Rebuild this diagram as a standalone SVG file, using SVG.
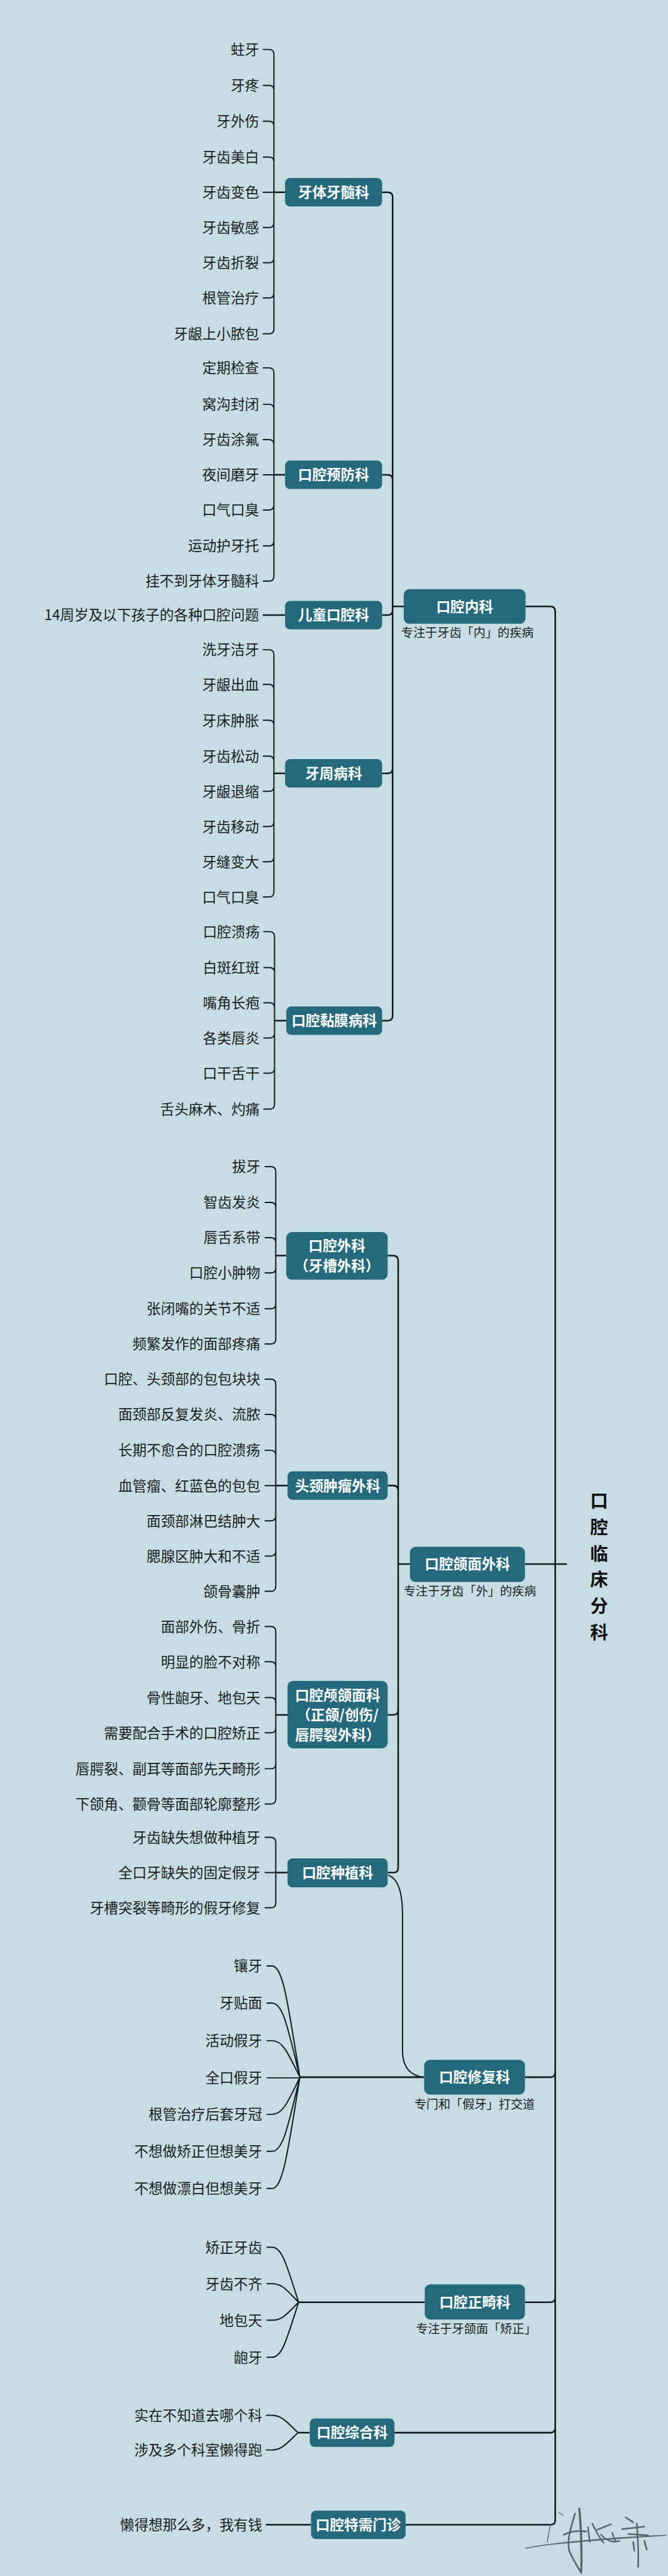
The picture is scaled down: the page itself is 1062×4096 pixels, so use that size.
<svg xmlns="http://www.w3.org/2000/svg" width="1062" height="4096" viewBox="0 0 1062 4096">
<style>
text{font-family:"Noto Sans CJK SC","Noto Sans",sans-serif}
.lf{font-size:23px;fill:#1a1e22;text-anchor:end}
.bx{fill:#256a7c}
.bt{font-size:23px;font-weight:700;fill:#ffffff;text-anchor:middle}
.sb{font-size:19.5px;fill:#1a1e22;text-anchor:middle}
.ln{fill:none;stroke:#131b1f;stroke-width:2}
.ln2{fill:none;stroke:#131b1f;stroke-width:2.6}
.sig{fill:none;stroke:#55666b;stroke-linecap:round}
.tt{font-size:29px;font-weight:700;fill:#111;text-anchor:middle}
</style>
<rect x="0" y="0" width="1062" height="4096" fill="#c7dde3"/>
<g transform="scale(0.983)">
<g id="connectors">
<path class="ln" d="M425,80H435Q443,80 443,88V311M425,138H435Q443,138 443,146V311M425,196H435Q443,196 443,204V311M425,254H435Q443,254 443,262V311M425,311H443M425,368H435Q443,368 443,360V311M425,425H435Q443,425 443,417V311M425,482H435Q443,482 443,474V311M425,540H435Q443,540 443,532V311"/>
<path class="ln2" d="M443,311H461"/>
<path class="ln" d="M425,595H435Q443,595 443,603V768M425,654H435Q443,654 443,662V768M425,711H435Q443,711 443,719V768M425,768H443M425,825H435Q443,825 443,817V768M425,883H435Q443,883 443,875V768M425,940H435Q443,940 443,932V768"/>
<path class="ln2" d="M443,768H461"/>
<path class="ln2" d="M425,995H461"/>
<path class="ln" d="M425,1051H435Q443,1051 443,1059V1251M425,1107H435Q443,1107 443,1115V1251M425,1165H435Q443,1165 443,1173V1251M425,1223H435Q443,1223 443,1231V1251M425,1280H435Q443,1280 443,1272V1251M425,1337H435Q443,1337 443,1329V1251M425,1394H435Q443,1394 443,1386V1251M425,1451H435Q443,1451 443,1443V1251"/>
<path class="ln2" d="M443,1251H461"/>
<path class="ln" d="M426,1507H436Q444,1507 444,1515V1651M426,1565H436Q444,1565 444,1573V1651M426,1622H436Q444,1622 444,1630V1651M426,1679H436Q444,1679 444,1671V1651M426,1736H436Q444,1736 444,1728V1651M426,1794H436Q444,1794 444,1786V1651"/>
<path class="ln2" d="M444,1651H463"/>
<path class="ln2" d="M618,311H627Q635,311 635,319V981M618,768H627Q635,768 635,776V981M618,995H627Q635,995 635,987V981M618,1251H627Q635,1251 635,1243V981M618,1651H627Q635,1651 635,1643V981M635,981H653"/>
<path class="ln" d="M428,1887H438Q446,1887 446,1895V2031M428,1945H438Q446,1945 446,1953V2031M428,2002H438Q446,2002 446,2010V2031M428,2059H438Q446,2059 446,2051V2031M428,2117H438Q446,2117 446,2109V2031M428,2174H438Q446,2174 446,2166V2031"/>
<path class="ln2" d="M446,2031H463"/>
<path class="ln" d="M428,2231H438Q446,2231 446,2239V2403M428,2288H438Q446,2288 446,2296V2403M428,2346H438Q446,2346 446,2354V2403M428,2403H446M428,2460H438Q446,2460 446,2452V2403M428,2517H438Q446,2517 446,2509V2403M428,2574H438Q446,2574 446,2566V2403"/>
<path class="ln2" d="M446,2403H465"/>
<path class="ln" d="M428,2631H438Q446,2631 446,2639V2774M428,2688H438Q446,2688 446,2696V2774M428,2746H438Q446,2746 446,2754V2774M428,2803H438Q446,2803 446,2795V2774M428,2861H438Q446,2861 446,2853V2774M428,2918H438Q446,2918 446,2910V2774"/>
<path class="ln2" d="M446,2774H465"/>
<path class="ln" d="M428,2972H438Q446,2972 446,2980V3029M428,3029H446M428,3086H438Q446,3086 446,3078V3029"/>
<path class="ln2" d="M446,3029H465"/>
<path class="ln2" d="M627,2031H636Q644,2031 644,2039V2530M627,2403H636Q644,2403 644,2411V2530M627,2774H636Q644,2774 644,2766V2530M627,3029H636Q644,3029 644,3021V2530M644,2530H663"/>
<path class="ln" d="M628,3033C645,3040 651,3062 651,3100V3318C651,3344 664,3358 686,3360"/>
<path class="ln" d="M431,3180H440C458,3180 466,3243 485,3360M431,3240H440C458,3240 466,3282 485,3360M431,3301H440C458,3301 466,3322 485,3360M431,3361H485M431,3420H440C458,3420 466,3399 485,3360M431,3480H440C458,3480 466,3438 485,3360M431,3540H440C458,3540 466,3477 485,3360"/>
<path class="ln2" d="M485,3360H686"/>
<path class="ln" d="M431,3635H440C457,3635 464,3666 483,3724M431,3694H440C457,3694 464,3705 483,3724M431,3753H440C457,3753 464,3743 483,3724M431,3813H440C457,3813 464,3782 483,3724"/>
<path class="ln2" d="M483,3724H687"/>
<path class="ln" d="M430,3907H439C456,3907 463,3917 482,3935M430,3963H439C456,3963 463,3953 482,3935"/>
<path class="ln2" d="M482,3935H501"/>
<path class="ln2" d="M430,4084H503"/>
<path class="ln2" d="M850,981H890Q898,981 898,989V2530M849,2530H917M849,3360H890Q898,3360 898,3352V2530M849,3724H890Q898,3724 898,3716V2530M638,3935H890Q898,3935 898,3927V2530M656,4084H890Q898,4084 898,4076V2530"/>
</g>

<g id="root">
<text class="tt" x="969" y="2428" dy=".37em">口</text>
<text class="tt" x="969" y="2470" dy=".37em">腔</text>
<text class="tt" x="969" y="2513" dy=".37em">临</text>
<text class="tt" x="969" y="2555" dy=".37em">床</text>
<text class="tt" x="969" y="2598" dy=".37em">分</text>
<text class="tt" x="969" y="2640" dy=".37em">科</text>
</g>

<g id="n-neike">
<rect class="bx" x="653" y="953" width="197" height="56" rx="9"/>
<text class="bt" x="751.5" y="981" dy=".37em">口腔内科</text>
<text class="sb" x="756" y="1023" dy=".37em">专注于牙齿「内」的疾病</text>
</g>

<g id="n-yati">
<rect class="bx" x="461" y="288" width="157" height="46" rx="8"/>
<text class="bt" x="539.5" y="311" dy=".37em">牙体牙髓科</text>
<text class="lf" x="419" y="80" dy=".37em">蛀牙</text>
<text class="lf" x="419" y="138" dy=".37em">牙疼</text>
<text class="lf" x="419" y="196" dy=".37em">牙外伤</text>
<text class="lf" x="419" y="254" dy=".37em">牙齿美白</text>
<text class="lf" x="419" y="311" dy=".37em">牙齿变色</text>
<text class="lf" x="419" y="368" dy=".37em">牙齿敏感</text>
<text class="lf" x="419" y="425" dy=".37em">牙齿折裂</text>
<text class="lf" x="419" y="482" dy=".37em">根管治疗</text>
<text class="lf" x="419" y="540" dy=".37em">牙龈上小脓包</text>
</g>

<g id="n-yufang">
<rect class="bx" x="461" y="745" width="157" height="46" rx="8"/>
<text class="bt" x="539.5" y="768" dy=".37em">口腔预防科</text>
<text class="lf" x="419" y="595" dy=".37em">定期检查</text>
<text class="lf" x="419" y="654" dy=".37em">窝沟封闭</text>
<text class="lf" x="419" y="711" dy=".37em">牙齿涂氟</text>
<text class="lf" x="419" y="768" dy=".37em">夜间磨牙</text>
<text class="lf" x="419" y="825" dy=".37em">口气口臭</text>
<text class="lf" x="419" y="883" dy=".37em">运动护牙托</text>
<text class="lf" x="419" y="940" dy=".37em">挂不到牙体牙髓科</text>
</g>

<g id="n-ertong">
<rect class="bx" x="461" y="972" width="157" height="46" rx="8"/>
<text class="bt" x="539.5" y="995" dy=".37em">儿童口腔科</text>
<text class="lf" x="419" y="995" dy=".37em">14周岁及以下孩子的各种口腔问题</text>
</g>

<g id="n-yazhou">
<rect class="bx" x="461" y="1228" width="157" height="46" rx="8"/>
<text class="bt" x="539.5" y="1251" dy=".37em">牙周病科</text>
<text class="lf" x="419" y="1051" dy=".37em">洗牙洁牙</text>
<text class="lf" x="419" y="1107" dy=".37em">牙龈出血</text>
<text class="lf" x="419" y="1165" dy=".37em">牙床肿胀</text>
<text class="lf" x="419" y="1223" dy=".37em">牙齿松动</text>
<text class="lf" x="419" y="1280" dy=".37em">牙龈退缩</text>
<text class="lf" x="419" y="1337" dy=".37em">牙齿移动</text>
<text class="lf" x="419" y="1394" dy=".37em">牙缝变大</text>
<text class="lf" x="419" y="1451" dy=".37em">口气口臭</text>
</g>

<g id="n-nianmo">
<rect class="bx" x="463" y="1628" width="155" height="46" rx="8"/>
<text class="bt" x="540.5" y="1651" dy=".37em">口腔黏膜病科</text>
<text class="lf" x="420" y="1507" dy=".37em">口腔溃疡</text>
<text class="lf" x="420" y="1565" dy=".37em">白斑红斑</text>
<text class="lf" x="420" y="1622" dy=".37em">嘴角长疱</text>
<text class="lf" x="420" y="1679" dy=".37em">各类唇炎</text>
<text class="lf" x="420" y="1736" dy=".37em">口干舌干</text>
<text class="lf" x="420" y="1794" dy=".37em">舌头麻木、灼痛</text>
</g>

<g id="n-hemian">
<rect class="bx" x="663" y="2502" width="186" height="57" rx="9"/>
<text class="bt" x="756" y="2530" dy=".37em">口腔颌面外科</text>
<text class="sb" x="760" y="2574" dy=".37em">专注于牙齿「外」的疾病</text>
</g>

<g id="n-waike">
<rect class="bx" x="463" y="1993" width="164" height="77" rx="9"/>
<text class="bt" x="545" y="2015" dy=".37em">口腔外科</text>
<text class="bt" x="545" y="2047" dy=".37em">（牙槽外科）</text>
<text class="lf" x="421" y="1887" dy=".37em">拔牙</text>
<text class="lf" x="421" y="1945" dy=".37em">智齿发炎</text>
<text class="lf" x="421" y="2002" dy=".37em">唇舌系带</text>
<text class="lf" x="421" y="2059" dy=".37em">口腔小肿物</text>
<text class="lf" x="421" y="2117" dy=".37em">张闭嘴的关节不适</text>
<text class="lf" x="421" y="2174" dy=".37em">频繁发作的面部疼痛</text>
</g>

<g id="n-toujing">
<rect class="bx" x="465" y="2380" width="162" height="46" rx="8"/>
<text class="bt" x="546" y="2403" dy=".37em">头颈肿瘤外科</text>
<text class="lf" x="421" y="2231" dy=".37em">口腔、头颈部的包包块块</text>
<text class="lf" x="421" y="2288" dy=".37em">面颈部反复发炎、流脓</text>
<text class="lf" x="421" y="2346" dy=".37em">长期不愈合的口腔溃疡</text>
<text class="lf" x="421" y="2403" dy=".37em">血管瘤、红蓝色的包包</text>
<text class="lf" x="421" y="2460" dy=".37em">面颈部淋巴结肿大</text>
<text class="lf" x="421" y="2517" dy=".37em">腮腺区肿大和不适</text>
<text class="lf" x="421" y="2574" dy=".37em">颌骨囊肿</text>
</g>

<g id="n-luhemian">
<rect class="bx" x="465" y="2719" width="162" height="109" rx="9"/>
<text class="bt" x="546" y="2742" dy=".37em">口腔颅颌面科</text>
<text class="bt" x="546" y="2774" dy=".37em">（正颌/创伤/</text>
<text class="bt" x="546" y="2806" dy=".37em">唇腭裂外科）</text>
<text class="lf" x="421" y="2631" dy=".37em">面部外伤、骨折</text>
<text class="lf" x="421" y="2688" dy=".37em">明显的脸不对称</text>
<text class="lf" x="421" y="2746" dy=".37em">骨性龅牙、地包天</text>
<text class="lf" x="421" y="2803" dy=".37em">需要配合手术的口腔矫正</text>
<text class="lf" x="421" y="2861" dy=".37em">唇腭裂、副耳等面部先天畸形</text>
<text class="lf" x="421" y="2918" dy=".37em">下颌角、颧骨等面部轮廓整形</text>
</g>

<g id="n-zhongzhi">
<rect class="bx" x="465" y="3006" width="162" height="47" rx="8"/>
<text class="bt" x="546" y="3029" dy=".37em">口腔种植科</text>
<text class="lf" x="421" y="2972" dy=".37em">牙齿缺失想做种植牙</text>
<text class="lf" x="421" y="3029" dy=".37em">全口牙缺失的固定假牙</text>
<text class="lf" x="421" y="3086" dy=".37em">牙槽突裂等畸形的假牙修复</text>
</g>

<g id="n-xiufu">
<rect class="bx" x="686" y="3332" width="163" height="56" rx="9"/>
<text class="bt" x="767.5" y="3360" dy=".37em">口腔修复科</text>
<text class="sb" x="767.5" y="3404" dy=".37em">专门和「假牙」打交道</text>
<text class="lf" x="424" y="3180" dy=".37em">镶牙</text>
<text class="lf" x="424" y="3240" dy=".37em">牙贴面</text>
<text class="lf" x="424" y="3301" dy=".37em">活动假牙</text>
<text class="lf" x="424" y="3361" dy=".37em">全口假牙</text>
<text class="lf" x="424" y="3420" dy=".37em">根管治疗后套牙冠</text>
<text class="lf" x="424" y="3480" dy=".37em">不想做矫正但想美牙</text>
<text class="lf" x="424" y="3540" dy=".37em">不想做漂白但想美牙</text>
</g>

<g id="n-zhengji">
<rect class="bx" x="687" y="3695" width="162" height="57" rx="9"/>
<text class="bt" x="768" y="3724" dy=".37em">口腔正畸科</text>
<text class="sb" x="770" y="3767" dy=".37em">专注于牙颌面「矫正」</text>
<text class="lf" x="424" y="3635" dy=".37em">矫正牙齿</text>
<text class="lf" x="424" y="3694" dy=".37em">牙齿不齐</text>
<text class="lf" x="424" y="3753" dy=".37em">地包天</text>
<text class="lf" x="424" y="3813" dy=".37em">龅牙</text>
</g>

<g id="n-zonghe">
<rect class="bx" x="501" y="3912" width="137" height="46" rx="8"/>
<text class="bt" x="569.5" y="3935" dy=".37em">口腔综合科</text>
<text class="lf" x="424" y="3907" dy=".37em">实在不知道去哪个科</text>
<text class="lf" x="424" y="3963" dy=".37em">涉及多个科室懒得跑</text>
</g>

<g id="n-texu">
<rect class="bx" x="503" y="4061" width="153" height="46" rx="8"/>
<text class="bt" x="579.5" y="4084" dy=".37em">口腔特需门诊</text>
<text class="lf" x="424" y="4084" dy=".37em">懒得想那么多，我有钱</text>
</g>

<g id="signature">
<path class="sig" stroke-width="1.4" d="M850,4122C900,4112 1000,4104 1077,4101M1077,4101C1000,4106 930,4111 880,4117M890,4084L885,4112"/>
<path class="sig" stroke-width="3.4" d="M937,4058C940,4090 941,4130 940,4160"/>
<path class="sig" stroke-width="2.6" d="M930,4066C923,4090 916,4110 921,4127C927,4141 935,4153 940,4162M912,4100C924,4094 936,4093 948,4095"/>
<path class="sig" stroke-width="1.3" d="M904,4064L911,4069"/>
<path class="sig" stroke-width="2.4" d="M951,4088L954,4112M958,4082C964,4094 968,4104 976,4113M966,4092L988,4083M972,4100C980,4109 991,4114 1002,4110M990,4097L995,4109"/>
<path class="sig" stroke-width="2.6" d="M1012,4072L1024,4080M1006,4091L1042,4087M1016,4099L1048,4101M1030,4082C1032,4110 1033,4132 1032,4152M1042,4110L1046,4124M1024,4112L1026,4126"/>
</g>
</g>
</svg>
